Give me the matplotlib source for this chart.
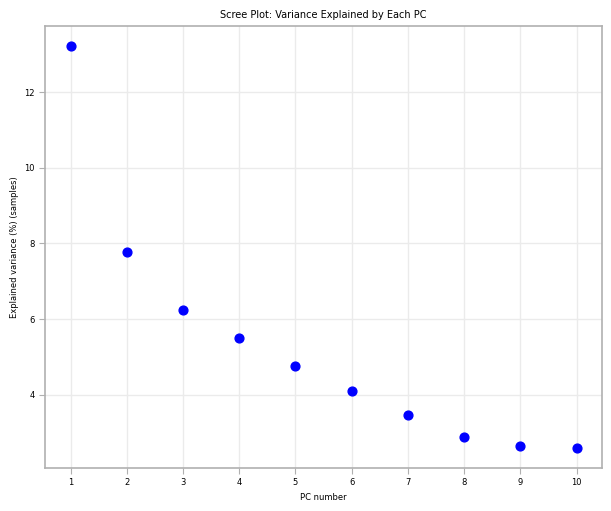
import numpy as np
import matplotlib
matplotlib.use("Agg")
import matplotlib.pyplot as plt

pc_numbers = [1, 2, 3, 4, 5, 6, 7, 8, 9, 10]
explained_var = [13.22, 7.77, 6.24, 5.51, 4.77, 4.09, 3.46, 2.87, 2.64, 2.59]

fig, ax = plt.subplots(figsize=(6.11, 5.11), dpi=100)

ax.scatter(pc_numbers, explained_var, color='blue', s=40, zorder=3)

ax.set_xticks(pc_numbers)
ax.set_title('Scree Plot: Variance Explained by Each PC', fontsize=7)
ax.set_xlabel('PC number', fontsize=6)
ax.set_ylabel('Explained variance (%) (samples)', fontsize=6)
ax.tick_params(axis='both', labelsize=6, color='#b0b0b0', length=4, width=0.8)

ax.grid(True, color='#ebebeb', linewidth=1)
ax.set_axisbelow(True)
for sp in ax.spines.values():
    sp.set_color('#b0b0b0')
    sp.set_linewidth(1.2)

plt.subplots_adjust(left=0.074, right=0.985, top=0.949, bottom=0.084)
plt.savefig('out.png', dpi=100)
